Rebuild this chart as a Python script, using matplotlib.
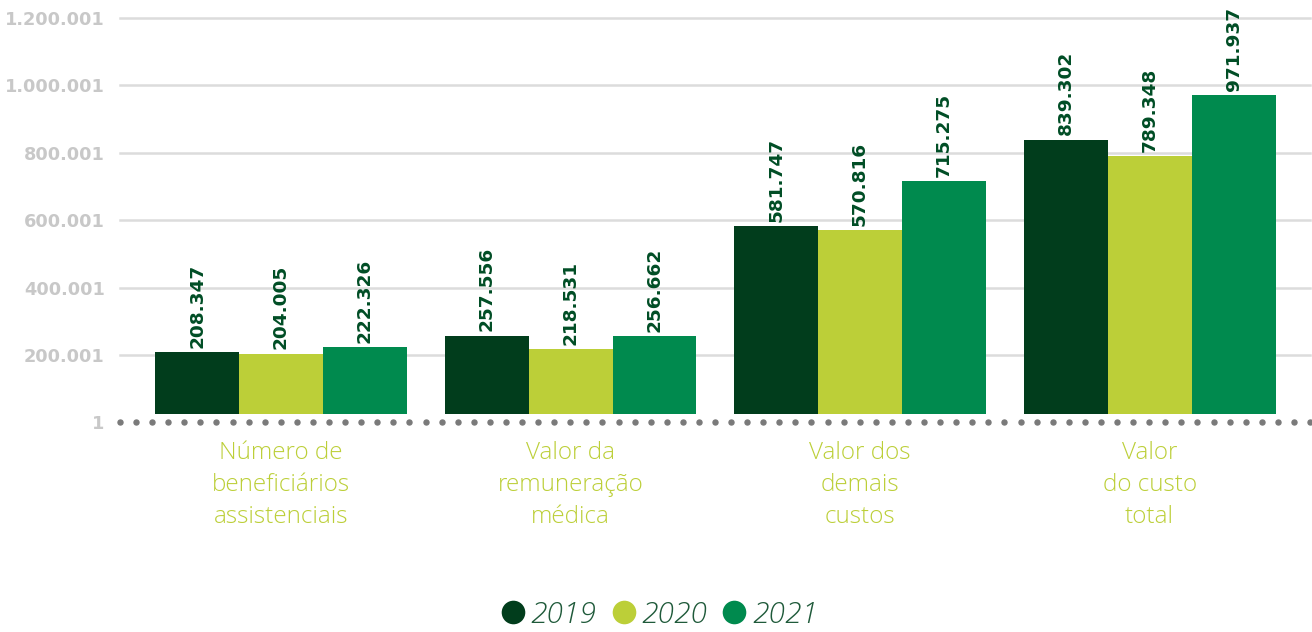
import matplotlib
matplotlib.use("Agg")
import matplotlib.pyplot as plt
import matplotlib.transforms as mtransforms
from matplotlib.lines import Line2D
import numpy as np

categories = ["Número de\nbeneficiários\nassistenciais",
              "Valor da\nremuneração\nmédica",
              "Valor dos\ndemais\ncustos",
              "Valor\ndo custo\ntotal"]
years = ["2019", "2020", "2021"]
v2019 = [208347, 257556, 581747, 839302]
v2020 = [204005, 218531, 570816, 789348]
v2021 = [222326, 256662, 715275, 971937]
series = [v2019, v2020, v2021]
yticks = [1, 200001, 400001, 600001, 800001, 1000001, 1200001]
ytick_labels = ["1", "200.001", "400.001", "600.001", "800.001", "1.000.001", "1.200.001"]

colors = ["#013d1c", "#bccf38", "#008a4e"]
label_color = "#004d25"
cat_color = "#bccf38"
tick_color = "#c8c8c8"

W, H = 1312, 632
fig = plt.figure(figsize=(W / 100, H / 100), dpi=100)
ax = fig.add_axes([120 / W, (H - 422.4) / H, (1310 - 120) / W, (422.4 - 18) / H])

x = np.arange(len(categories))
bw = 0.29
base = 25000
for i, (vals, c) in enumerate(zip(series, colors)):
    xs = x + (i - 1) * bw
    heights = [v - base for v in vals]
    ax.bar(xs, heights, bottom=base, width=bw, color=c, zorder=3, linewidth=0)
    for xi, v in zip(xs, vals):
        lbl = f"{v:,}".replace(",", ".")
        ax.annotate(lbl, (xi, v), xytext=(0, 3), textcoords="offset points",
                    rotation=90, ha="center", va="bottom", fontsize=13.3,
                    fontweight="bold", color=label_color, zorder=4,
                    annotation_clip=False)

ax.set_xlim(-0.556, 3.554)
ax.set_ylim(1, 1200001)
ax.set_yticks(yticks)
ax.set_yticklabels(ytick_labels, fontsize=12.8, fontweight="bold", color=tick_color)
ax.tick_params(axis="y", length=0, pad=11)
ax.set_xticks([])
for s in ax.spines.values():
    s.set_visible(False)
for yv in yticks[1:]:
    ax.axhline(yv, color="#dcdcdc", linewidth=1.8, zorder=1, clip_on=False)

# dotted baseline
dots_x = np.linspace(-0.556 + 0.0, 3.554, 75)
ax.plot(dots_x, [1] * len(dots_x), linestyle="none", marker="o", markersize=3.6,
        color="#7a7a7a", clip_on=False, zorder=2)

# category labels
trans = mtransforms.blended_transform_factory(ax.transData, fig.transFigure)
line_y = [453, 485, 517]
for xi, cat in zip(x, categories):
    for ly, line in zip(line_y, cat.split("\n")):
        ax.text(xi, 1 - ly / H, line, transform=trans, ha="center", va="center",
                fontsize=17.5, color=cat_color, family="Open Sans", fontweight="light")

# legend
handles = [Line2D([0], [0], marker="o", linestyle="none", markersize=17,
                  markerfacecolor=c, markeredgewidth=0) for c in colors]
leg = fig.legend(handles, years, loc="center", bbox_to_anchor=(658 / W, 1 - 615 / H),
                 ncol=3, frameon=False, handletextpad=0.1, columnspacing=0.4,
                 handlelength=1.0,
                 prop={"family": "Open Sans", "style": "italic", "size": 21.5, "weight": "light"})
for t in leg.get_texts():
    t.set_color("#1f5a3a")

fig.savefig("out.png", dpi=100, facecolor="white")
